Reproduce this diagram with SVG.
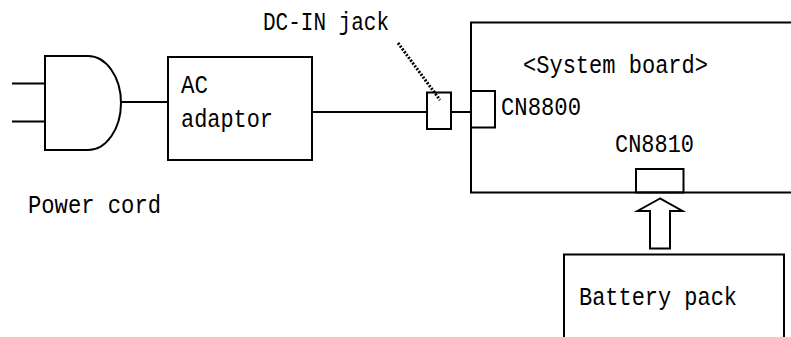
<svg xmlns="http://www.w3.org/2000/svg" width="791" height="337" viewBox="0 0 791 337">
<style>
.s{fill:none;stroke:#000;stroke-width:2}
.w{fill:#fff;stroke:#000;stroke-width:2}
text{font-family:"Liberation Mono","DejaVu Sans Mono",monospace;font-size:26px;fill:#000}
</style>
<rect width="791" height="337" fill="#fff"/>
<g id="connectors">
<line class="s" x1="12" y1="83.5" x2="45" y2="83.5"/>
<line class="s" x1="12" y1="121.5" x2="45" y2="121.5"/>
<line class="s" x1="121" y1="102" x2="168" y2="102"/>
<line class="s" x1="312" y1="112" x2="427" y2="112"/>
<line class="s" x1="451" y1="112" x2="471" y2="112"/>
<line x1="398" y1="43" x2="440" y2="100" stroke="#000" stroke-width="3" stroke-dasharray="2,1.5"/>
<polygon class="w" points="660,198.5 637.5,211 650,211 650,248.5 670,248.5 670,211 682.5,211"/>
</g>
<g id="power-cord">
<path class="s" d="M45,56 H88 A33,47 0 0 1 88,150 H45 Z"/>
<text x="28" y="213" textLength="133" lengthAdjust="spacingAndGlyphs">Power cord</text>
</g>
<g id="ac-adaptor">
<rect class="s" x="168" y="57" width="144" height="103"/>
<text x="181" y="93" textLength="27" lengthAdjust="spacingAndGlyphs">AC</text>
<text x="181" y="127" textLength="92" lengthAdjust="spacingAndGlyphs">adaptor</text>
</g>
<g id="dc-in-jack">
<rect class="s" x="427" y="92.5" width="24" height="36.5"/>
<text x="263" y="30" textLength="126" lengthAdjust="spacingAndGlyphs">DC-IN jack</text>
</g>
<g id="system-board">
<path class="s" d="M800,22.5 H471 V192.5 H800"/>
<text x="523" y="73" textLength="185" lengthAdjust="spacingAndGlyphs">&lt;System board&gt;</text>
</g>
<g id="cn8800">
<rect class="s" x="471" y="91" width="24" height="36.5"/>
<text x="501" y="115" textLength="80" lengthAdjust="spacingAndGlyphs">CN8800</text>
</g>
<g id="cn8810">
<rect class="s" x="636" y="169" width="47.5" height="23.5"/>
<text x="615" y="152" textLength="79" lengthAdjust="spacingAndGlyphs">CN8810</text>
</g>
<g id="battery-pack">
<path class="s" d="M564,340 V254.5 H784 V340"/>
<text x="579" y="305" textLength="158" lengthAdjust="spacingAndGlyphs">Battery pack</text>
</g>
</svg>
